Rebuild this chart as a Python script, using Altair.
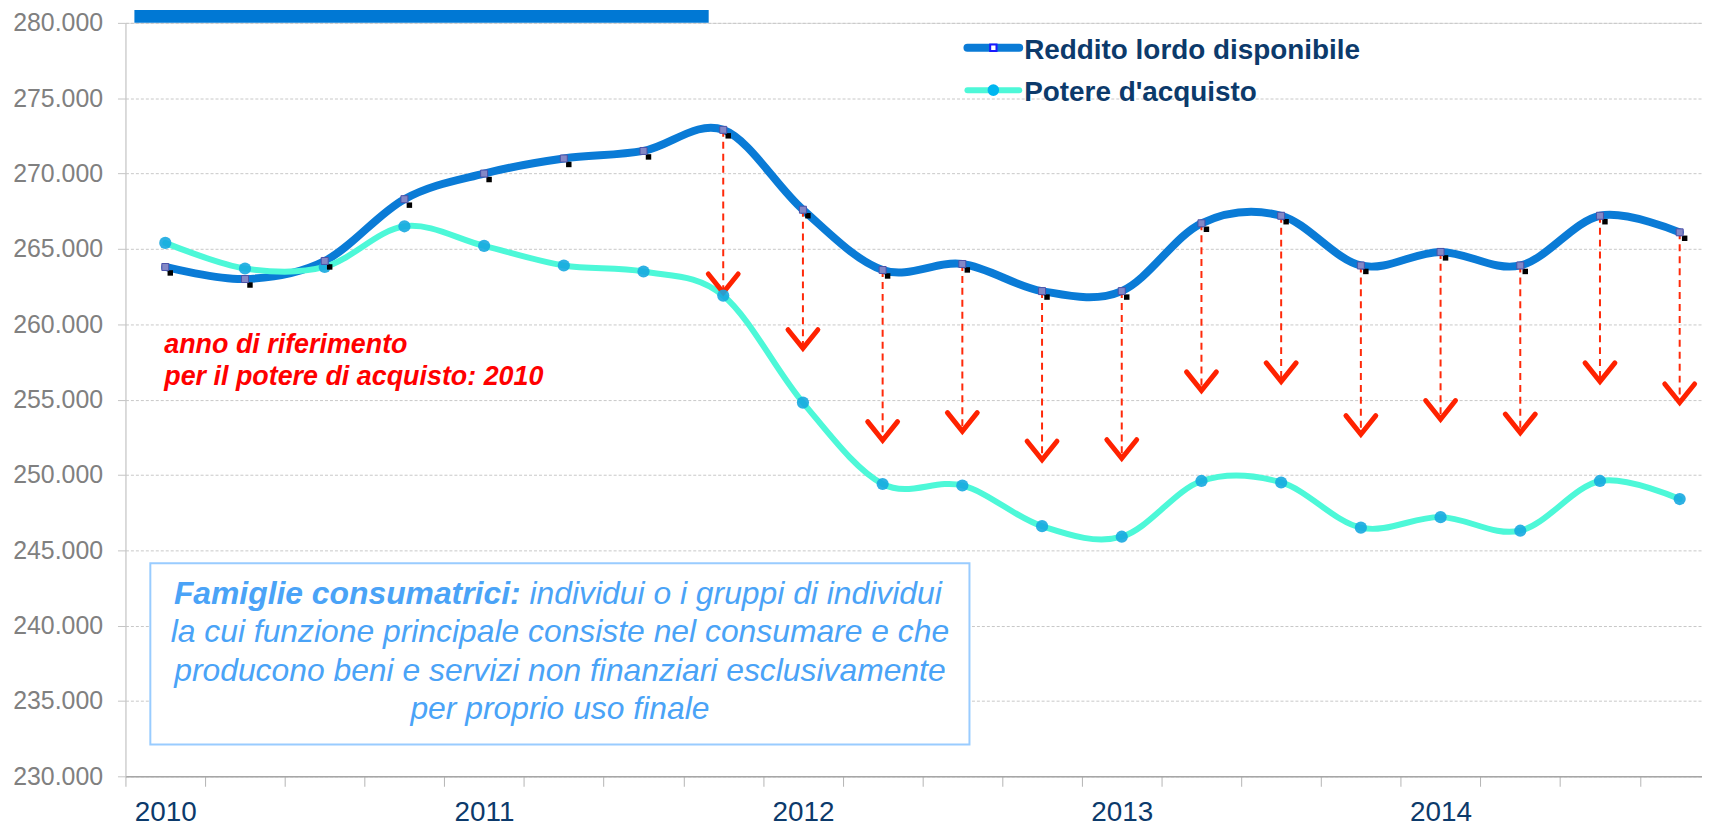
import altair as alt
import pandas as pd

# ---------------- data ----------------
quarters = ["2010-T1", "2010-T2", "2010-T3", "2010-T4",
            "2011-T1", "2011-T2", "2011-T3", "2011-T4",
            "2012-T1", "2012-T2", "2012-T3", "2012-T4",
            "2013-T1", "2013-T2", "2013-T3", "2013-T4",
            "2014-T1", "2014-T2", "2014-T3", "2014-T4"]
years = ["2010", "2011", "2012", "2013", "2014"]
series_names = ["Reddito lordo disponibile", "Potere d'acquisto"]

reddito = [263800, 263000, 264200, 268300, 270000, 271000, 271500, 272900, 267600, 263600,
           264000, 262200, 262200, 266700, 267200, 263900, 264800, 263900, 267200, 266100]
potere = [265400, 263700, 263800, 266500, 265200, 263900, 263500, 261900, 254800, 249400,
          249300, 246600, 245900, 249600, 249500, 246500, 247200, 246300, 249600, 248400]

arrow_quarters = quarters[7:]
arrow_tips = [262100, 258400, 252300, 252900, 251000, 251100, 255600,
              256200, 252700, 253700, 252800, 256200, 254800]

y_ticks = [230000, 235000, 240000, 245000, 250000, 255000,
           260000, 265000, 270000, 275000, 280000]

note_lines = ["anno di riferimento", "per il potere di acquisto: 2010"]
box_bold = "Famiglie consumatrici:"
box_lines = ["individui o i gruppi di individui",
             "la cui funzione principale consiste nel consumare e che",
             "producono beni e servizi non finanziari esclusivamente",
             "per proprio uso finale"]

# ---------------- styles ----------------
FONT = "Liberation Sans, Arial, sans-serif"
BLUE = "#0A7BD6"
TURQ = "#4DF8D8"
TURQ_PT = "#17A9E0"
RED = "#FF2A0A"
NAVY = "#0C3A6B"
BOXBLUE = "#4AA3F7"

df = pd.DataFrame({"q": list(range(len(quarters))), "quarter": quarters,
                   "reddito": reddito, "potere": potere})
arrows = pd.DataFrame({"q": [quarters.index(a) for a in arrow_quarters],
                       "start": reddito[7:], "tip": arrow_tips})
one = pd.DataFrame({"k": [0]})

bounds = [i - 0.5 for i in range(len(quarters))]
year_arr = "[" + ",".join(f"'{y}'" for y in years) + "]"
label_expr = f"(datum.value + 0.5) % 4 == 0 ? {year_arr}[(datum.value + 0.5) / 4] : ''"

xscale = alt.Scale(domain=[-0.5, 19.28], nice=False, zero=False)
yscale = alt.Scale(domain=[230000, 280000], nice=False, zero=False)

xaxis = alt.Axis(values=bounds, title=None, grid=False, tickSize=10, tickColor="#b4b4b4",
                 domainColor="#a6a6a6", domainWidth=1.5, labelExpr=label_expr, labelOffset=40,
                 labelFontSize=28, labelColor=NAVY, labelFont=FONT, labelPadding=12,
                 labelOverlap=False, labelFlush=False, labelAlign="center", labelBaseline="top")
yaxis = alt.Axis(values=y_ticks, title=None, grid=True, gridColor="#c8c8c8", gridDash=[3, 2],
                 gridWidth=1, tickSize=8, tickColor="#c4c4c4", domainColor="#c8c8c8",
                 labelExpr="replace(format(datum.value, ',.0f'), ',', '.')",
                 labelFontSize=25, labelColor="#808080", labelFont=FONT, labelPadding=15)


def X():
    return alt.X("q:Q", scale=xscale, axis=xaxis)


def Y(field):
    return alt.Y(f"{field}:Q", scale=yscale, axis=yaxis)


layers = []

# explanatory box (white fill hides gridlines)
layers.append(alt.Chart(one).mark_rect(fill="white", stroke="#99CCFF", strokeWidth=2).encode(
    x=alt.value(25), x2=alt.value(848), y=alt.value(543), y2=alt.value(725)))
box_y = [584, 622.5, 661, 699.5]
layers.append(alt.Chart(one).mark_text(font=FONT, fontSize=32, fontStyle="italic", fontWeight="bold",
                                       color=BOXBLUE, align="right", baseline="alphabetic").encode(
    x=alt.value(397), y=alt.value(box_y[0]), text=alt.value(box_bold)))
layers.append(alt.Chart(one).mark_text(font=FONT, fontSize=32, fontStyle="italic",
                                       color=BOXBLUE, align="left", baseline="alphabetic").encode(
    x=alt.value(406), y=alt.value(box_y[0]), text=alt.value(box_lines[0])))
for i, line in enumerate(box_lines[1:], start=1):
    layers.append(alt.Chart(one).mark_text(font=FONT, fontSize=32, fontStyle="italic",
                                           color=BOXBLUE, align="center", baseline="alphabetic").encode(
        x=alt.value(436.5), y=alt.value(box_y[i]), text=alt.value(line)))

# red note
for i, line in enumerate(note_lines):
    layers.append(alt.Chart(one).mark_text(font=FONT, fontSize=27, fontStyle="italic", fontWeight="bold",
                                           color="#FF0000", align="left", baseline="alphabetic").encode(
        x=alt.value(39), y=alt.value([332, 364][i]), text=alt.value(line)))

# series lines
layers.append(alt.Chart(df).mark_line(color=BLUE, strokeWidth=8, interpolate="cardinal",
                                      strokeCap="round").encode(x=X(), y=Y("reddito")))
layers.append(alt.Chart(df).mark_line(color=TURQ, strokeWidth=6, interpolate="cardinal",
                                      strokeCap="round").encode(x=X(), y=Y("potere")))

# arrows
layers.append(alt.Chart(arrows).mark_rule(color=RED, strokeWidth=2, strokeDash=[7, 5]).encode(
    x=X(), y=Y("start"), y2="tip:Q"))
layers.append(alt.Chart(arrows).mark_point(shape="M-1,-1.25L0,0L1,-1.25", filled=False, size=900,
                                           stroke="#FF2200", strokeWidth=5, strokeCap="round",
                                           opacity=1).encode(x=X(), y=Y("tip")))

# markers
layers.append(alt.Chart(df).mark_point(shape="circle", filled=True, size=150, color=TURQ_PT,
                                       opacity=0.9).encode(x=X(), y=Y("potere")))
layers.append(alt.Chart(df).mark_point(shape="square", filled=True, size=30, color="#000000",
                                       opacity=1, xOffset=5, yOffset=6).encode(x=X(), y=Y("reddito")))
layers.append(alt.Chart(df).mark_point(shape="square", filled=True, size=49, fill="#8488C6",
                                       stroke="#4D52A8", strokeWidth=1, opacity=1).encode(
    x=X(), y=Y("reddito")))

# legend
leg_line_y = [25, 67.6]
leg_text_y = [28.4, 70.6]
leg_colors = [BLUE, TURQ]
leg_widths = [8, 6]
for i, name in enumerate(series_names):
    layers.append(alt.Chart(one).mark_rule(color=leg_colors[i], strokeWidth=leg_widths[i],
                                           strokeCap="round").encode(
        x=alt.value(846), x2=alt.value(898), y=alt.value(leg_line_y[i])))
    layers.append(alt.Chart(one).mark_text(font=FONT, fontSize=28, fontWeight="bold", color=NAVY,
                                           align="left", baseline="middle").encode(
        x=alt.value(903), y=alt.value(leg_text_y[i]), text=alt.value(name)))
layers.append(alt.Chart(one).mark_point(shape="square", filled=True, size=40, fill="white",
                                        stroke="#1A1AFF", strokeWidth=2, opacity=1).encode(
    x=alt.value(872), y=alt.value(leg_line_y[0])))
layers.append(alt.Chart(one).mark_point(shape="circle", filled=True, size=135, color="#00B6F0",
                                        opacity=1).encode(
    x=alt.value(872), y=alt.value(leg_line_y[1])))

# title banner (cut off at the top)
layers.append(alt.Chart(one).mark_rect(color="#0078D4").encode(
    x=alt.value(9), x2=alt.value(586), y=alt.value(-13), y2=alt.value(0)))

chart = alt.layer(*layers).properties(
    width=1584, height=757,
    padding={"left": 118, "top": 13, "right": 0, "bottom": 52},
    autosize=alt.AutoSizeParams(type="none"),
).configure_view(stroke=None).configure(font=FONT)

chart.save("out.html", embed_options={"renderer": "svg", "actions": False})
